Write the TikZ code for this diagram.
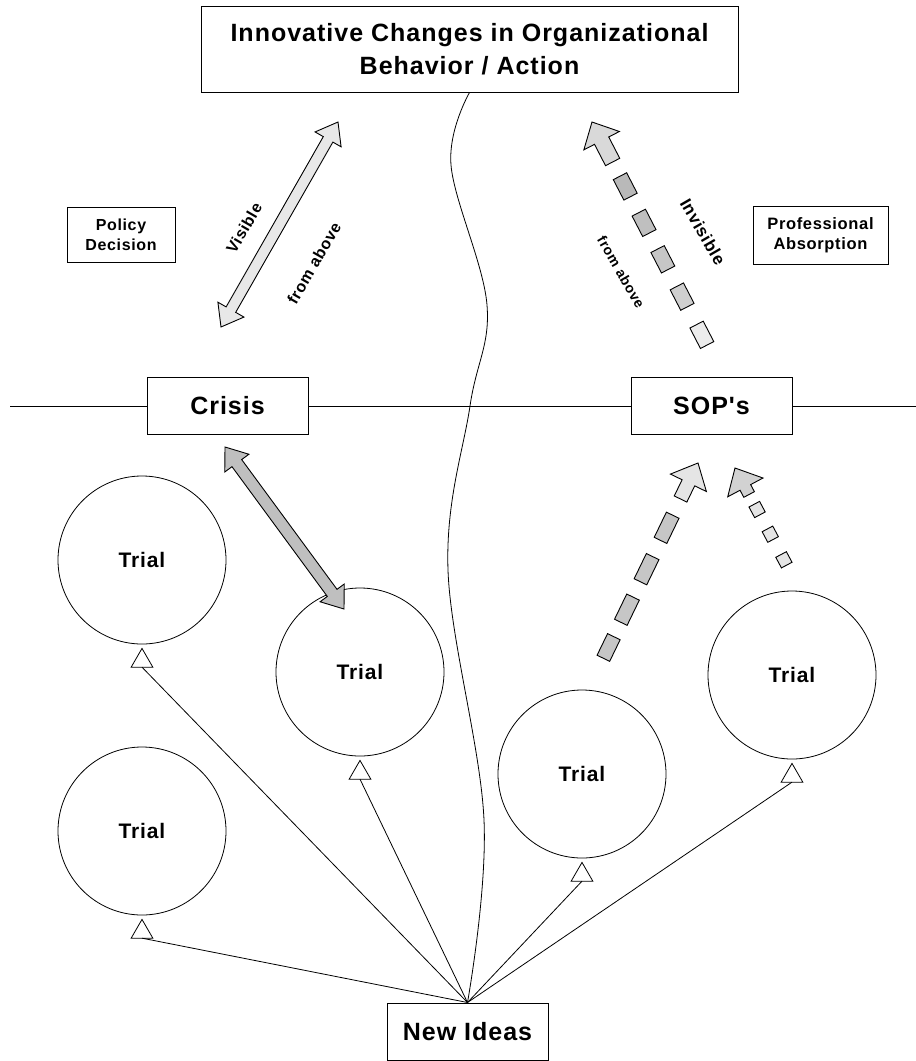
\documentclass[tikz,border=0pt]{standalone}
\usepackage{fontspec}
\newfontfamily\labfont[LetterSpace=4]{Liberation Sans}
\usetikzlibrary{calc,shapes.geometric}

% double-headed block arrow between two tips
% #1,#2 tips; #3 shaft half width; #4 head half width; #5 head length; #6 fill
\newcommand\dblblock[6]{%
  \coordinate (hA) at ($(#1)!#5!(#2)$);
  \coordinate (hB) at ($(#2)!#5!(#1)$);
  \filldraw[blockline, fill=#6] (#1) -- ($(hA)!#4!90:(#1)$) -- ($(hA)!#3!90:(#1)$)
    -- ($(hB)!#3!-90:(#2)$) -- ($(hB)!#4!-90:(#2)$) -- (#2)
    -- ($(hB)!#4!90:(#2)$) -- ($(hB)!#3!90:(#2)$)
    -- ($(hA)!#3!-90:(#1)$) -- ($(hA)!#4!-90:(#1)$) -- cycle;}

% block arrow head with a short stub
% #1 tip; #2 point toward the tail; #3 head half width; #4 head length;
% #5 stub half width; #6 distance of stub end from tip; #7 fill
\newcommand\headblock[7]{%
  \coordinate (hA) at ($(#1)!#4!(#2)$);
  \coordinate (hS) at ($(#1)!#6!(#2)$);
  \filldraw[blockline, fill=#7] (#1) -- ($(hA)!#3!90:(#2)$) -- ($(hA)!#5!90:(#2)$)
    -- ($(hS)!#5!90:(#2)$) -- ($(hS)!#5!-90:(#2)$)
    -- ($(hA)!#5!-90:(#2)$) -- ($(hA)!#3!-90:(#2)$) -- cycle;}

% one dash of a broken block arrow, between two distances from #1 toward #2
% #3 start; #4 end; #5 half width; #6 fill
\newcommand\dashblock[6]{%
  \coordinate (dA) at ($(#1)!#3!(#2)$);
  \coordinate (dB) at ($(#1)!#4!(#2)$);
  \filldraw[blockline, fill=#6] ($(dA)!#5!90:(#2)$) -- ($(dB)!#5!90:(#2)$)
    -- ($(dB)!#5!-90:(#2)$) -- ($(dA)!#5!-90:(#2)$) -- cycle;}

\begin{document}
\begin{tikzpicture}[x=1pt,y=-1pt,
  box/.style={draw, line width=1pt, inner sep=0pt, align=center},
  bigtext/.style={font=\labfont\bfseries\fontsize{25}{28}\selectfont},
  smalltext/.style={font=\labfont\bfseries\fontsize{16}{20}\selectfont},
  trial/.style={draw, circle, line width=0.8pt, minimum size=168pt, inner sep=0pt,
    font=\labfont\bfseries\fontsize{21}{24}\selectfont},
  tri/.style={draw, regular polygon, regular polygon sides=3, minimum size=25pt,
    inner sep=0pt, outer sep=0pt, line width=0.8pt, anchor=corner 1},
  feed/.style={line width=0.8pt},
  blockline/.style={line width=0.9pt, line join=miter},
  tag/.style={inner sep=0pt}
]
\useasboundingbox (0,0) rectangle (916,1061);

% ---- boxes ----
\node[box, minimum width=537pt, minimum height=86pt,
  font=\labfont\bfseries\fontsize{25}{33}\selectfont] (top) at (469.5,49)
  {Innovative Changes in Organizational\\Behavior / Action};
\node[box, smalltext, minimum width=108pt, minimum height=55pt] (policy) at (121,234.5)
  {Policy\\Decision};
\node[box, font=\labfont\bfseries\fontsize{16.5}{20}\selectfont,
  minimum width=135pt, minimum height=58pt] (prof) at (820.5,235)
  {Professional\\Absorption};
\node[box, bigtext, minimum width=161pt, minimum height=57pt] (crisis) at (227.5,406)
  {Crisis};
\node[box, bigtext, minimum width=161pt, minimum height=57pt] (sop) at (711.5,406)
  {SOP's};
\node[box, bigtext, minimum width=161pt, minimum height=57pt] (ideas) at (467.5,1031.5)
  {New Ideas};

% ---- horizontal divider through Crisis and SOP's ----
\coordinate (hl) at (10,406);
\coordinate (hr) at (916,406);
\draw[feed] (hl) -- (crisis.west);
\draw[feed] (crisis.east) -- (sop.west);
\draw[feed] (sop.east) -- (hr);

% ---- wavy divider ----
\draw[feed] plot[smooth, tension=0.6] coordinates
  {(top.south) (451,165) (487,305) (470,406) (448,570) (484,820) (ideas.north)};

% ---- trials ----
\node[trial] (t1) at (142,560) {Trial};
\node[trial] (t2) at (142,831) {Trial};
\node[trial] (t3) at (360,672) {Trial};
\node[trial] (t4) at (582,774) {Trial};
\node[trial] (t5) at (792,675) {Trial};
\foreach \k in {1,...,5} {
  \node[tri] (p\k) at ([yshift=-4pt]t\k.south) {};
  \draw[feed] (ideas.north) -- (p\k.south);
}

% ---- visible route from above ----
\coordinate (V1) at (221,327);
\coordinate (V2) at (338,122);
\dblblock{V1}{V2}{5.5pt}{15pt}{20pt}{gray!18}
\node[tag, smalltext, rotate=60] (vis) at (244,228) {Visible};
\node[tag, smalltext, rotate=60] (fa1) at (314,263) {from above};

% ---- crisis to trial ----
\coordinate (K1) at (225,447);
\coordinate (K2) at (344,609);
\dblblock{K1}{K2}{6pt}{15pt}{20pt}{gray!50}

% ---- invisible route from above ----
\coordinate (I1) at (592,122);
\coordinate (I2) at (720,370);
\headblock{I1}{I2}{20pt}{21pt}{8pt}{45pt}{gray!30}
\foreach \a/\b/\c in {61pt/84pt/gray!55, 102pt/125pt/gray!50, 143pt/166pt/gray!45,
                      185pt/208pt/gray!38, 228pt/251pt/gray!15}
  {\dashblock{I1}{I2}{\a}{\b}{7.5pt}{\c}}
\node[tag, font=\labfont\bfseries\fontsize{17}{20}\selectfont, rotate=-60] (invis) at (703,232) {Invisible};
\node[tag, font=\labfont\bfseries\fontsize{14}{16}\selectfont, rotate=-60] (fa2) at (621,272) {from above};

% ---- trials absorbed into SOP's ----
\coordinate (A1) at (698,463);
\coordinate (A2) at (588,690);
\headblock{A1}{A2}{20pt}{22pt}{7pt}{40pt}{gray!20}
\foreach \a/\b in {58pt/86pt, 104pt/132pt, 149pt/177pt, 193pt/217pt}
  {\dashblock{A1}{A2}{\a}{\b}{7pt}{gray!45}}

\coordinate (B1) at (735,468);
\coordinate (B2) at (800,590);
\headblock{B1}{B2}{20pt}{22pt}{6pt}{30pt}{gray!35}
\foreach \a/\b in {41pt/53pt, 69pt/81pt, 98pt/110pt}
  {\dashblock{B1}{B2}{\a}{\b}{6pt}{gray!20}}

\end{tikzpicture}
\end{document}
